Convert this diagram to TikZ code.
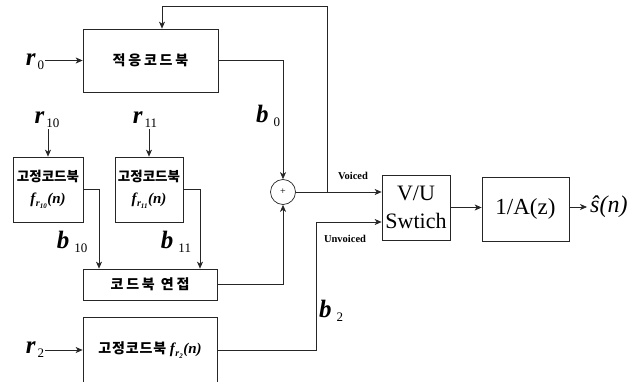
\documentclass[tikz,border=0pt]{standalone}
\usepackage{fontspec}
\setmainfont{Liberation Serif}
\newfontfamily\krA[LetterSpace=20]{Noto Sans CJK KR}
\newfontfamily\krB[LetterSpace=0]{Noto Sans CJK KR}
\newfontfamily\krC[LetterSpace=6]{Noto Sans CJK KR}
\usetikzlibrary{arrows.meta,calc}
\newcommand\vlab[3][2pt]{{\fontsize{25}{27}\selectfont\bfseries\itshape #2}\hspace{#1}{\fontsize{13}{14}\selectfont\raisebox{-4pt}{#3}}}
\newcommand\fcode[1]{{\bfseries\itshape f\hspace{0.5pt}\raisebox{-3pt}{\fontsize{10}{10}\selectfont r\raisebox{-1.5pt}{\fontsize{7}{7}\selectfont #1}}\hspace{0.5pt}(n)}}
\begin{document}
\begin{tikzpicture}[x=1pt,y=-1pt,
  blk/.style={draw=black!85,line width=0.7pt,inner sep=0pt},
  ln/.style={draw=black!85,line width=0.7pt},
  arr/.style={ln,-{Stealth[length=7pt,width=6pt,inset=2pt]}},
  lab/.style={inner sep=1pt},
  mth/.style={font=\fontsize{15}{17}\selectfont}
]
\useasboundingbox (0,0) rectangle (644,382);
\begin{scope}
\clip (0,0) rectangle (644,382);
% blocks
\node[blk,minimum width=135pt,minimum height=63pt] (acb) at (150.5,60.5) {\fontsize{14}{16}\selectfont\krA\bfseries 적응코드북};
\node[blk,minimum width=70pt,minimum height=65pt,align=center,mth] (fcb10) at (48,189.5)
  {{\krB\bfseries\fontsize{13.5}{15}\selectfont 고정코드북}\\[5pt]\fcode{10}};
\node[blk,minimum width=68pt,minimum height=65pt,align=center,mth] (fcb11) at (149,189.5)
  {{\krB\bfseries\fontsize{13.5}{15}\selectfont 고정코드북}\\[5pt]\fcode{11}};
\node[blk,minimum width=134pt,minimum height=31pt] (cat) at (150,284.5) {\fontsize{14}{16}\selectfont\krA\bfseries 코드북 연접};
\node[blk,minimum width=134pt,minimum height=83pt] (fcb2) at (150,358.5) {};
\node[mth] (fcb2t) at (150,350) {{\krC\bfseries\fontsize{14}{15}\selectfont 고정코드북} \fcode{2}};
\node[circle,draw=black!85,line width=0.7pt,minimum size=25pt,inner sep=0pt] (sum) at (283,192) {\fontsize{10}{10}\selectfont +};
\node[blk,minimum width=68pt,minimum height=65pt,align=center,font=\fontsize{22}{28}\selectfont] (sw) at (416,207.5) {V/U\\Swtich};
\node[blk,minimum width=87pt,minimum height=64pt,font=\fontsize{23}{26}\selectfont] (syn) at (525.5,209) {1/A(z)};
% labels
\node[lab] (r0) at (35,62) {\vlab{r}{0}};
\node[lab] (r10) at (47,120) {\vlab{r}{10}};
\node[lab] (r11) at (145,120) {\vlab{r}{11}};
\node[lab] (r2) at (35,350) {\vlab{r}{2}};
\node[lab] (b0) at (268,116) {\vlab[5pt]{b}{0}};
\node[lab] (b10) at (72,242) {\vlab[5pt]{b}{10}};
\node[lab] (b11) at (176,242) {\vlab[5pt]{b}{11}};
\node[lab] (b2) at (331,311) {\vlab[5pt]{b}{2}};
\node[lab,font=\fontsize{10.5}{12}\selectfont\bfseries] (vo) at (353,176) {Voiced};
\node[lab,font=\fontsize{10.5}{12}\selectfont\bfseries] (uv) at (345,239) {Unvoiced};
\node[inner sep=3pt,anchor=west] (out) at (587,207) {\fontsize{24}{26}\selectfont\itshape\^{s}(n)};
% coordinates
\coordinate (fb) at (327,192);
\coordinate (fbt) at (327,6);
\coordinate (unv) at (316,222);
% connectors
\draw[arr] (r0.east |- acb.west) -- (acb.west);
\draw[arr] (fb) -- (fbt) -| ([xshift=11.5pt]acb.north);
\draw[arr] (acb.east) -| (sum.north);
\draw[arr] (fcb10.north |- r10.south) -- (fcb10.north);
\draw[arr] (fcb11.north |- r11.south) -- (fcb11.north);
\draw[arr] (fcb10.east) -| ([xshift=-51pt]cat.north);
\draw[arr] (fcb11.east) -| ([xshift=50pt]cat.north);
\draw[arr] (cat.east) -| (sum.south);
\draw[arr] (r2.east |- fcb2t) -- (fcb2.west |- fcb2t);
\draw[arr] (fcb2.east |- fcb2t) -| (unv) -- (sw.west |- unv);
\draw[arr] (sum.east) -- (sw.west |- sum.east);
\draw[arr] (sw.east) -- (syn.west |- sw.east);
\draw[arr] (syn.east |- out.west) -- (out.west);
\end{scope}
\end{tikzpicture}
\end{document}
